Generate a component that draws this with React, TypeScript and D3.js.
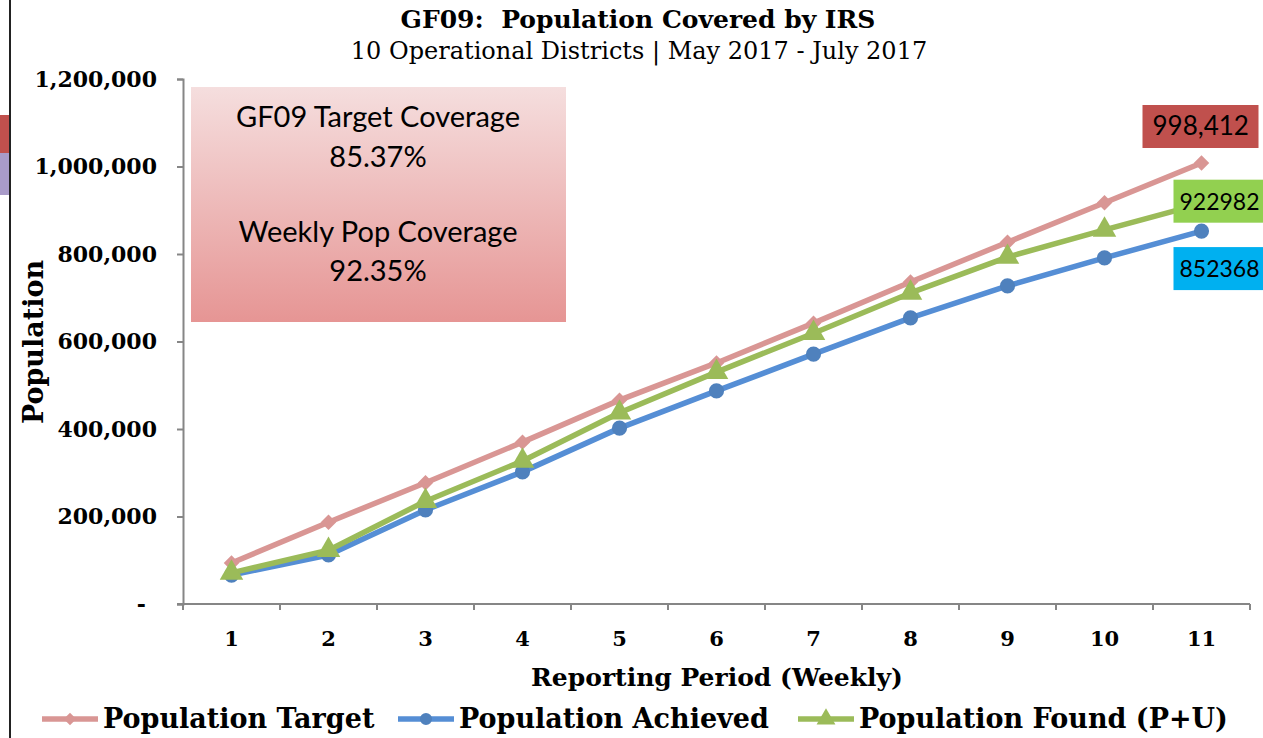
import React, { useEffect, useRef } from 'react';
import * as d3 from 'd3';

// weekly reporting periods
const periods = ['1', '2', '3', '4', '5', '6', '7', '8', '9', '10', '11'];
const populationTarget = [93700, 187000, 277000, 370000, 466000, 551000, 642000, 736000, 827000, 917000, 1008000];
const populationAchieved = [66000, 112000, 215000, 302000, 402000, 487000, 571000, 654000, 727000, 791000, 852368];
const populationFound = [71000, 123000, 235000, 327000, 437000, 530000, 619000, 711000, 793000, 855000, 915000];
const yTicks = [0, 200000, 400000, 600000, 800000, 1000000, 1200000];
const seriesNames = ['Population Target', 'Population Achieved', 'Population Found (P+U)'];
const endLabels = ['998,412', '852368', '922982'];
const coverageText = ['GF09 Target Coverage', '85.37%', 'Weekly Pop Coverage', '92.35%'];

const serif = "Georgia, 'DejaVu Serif', serif";
const sans = "Lato, 'Open Sans', sans-serif";

export default function App() {
  const ref = useRef<SVGSVGElement>(null);

  useEffect(() => {
    const svg = d3.select(ref.current);
    svg.selectAll('*').remove();
    const plot = { left: 183, right: 1250, top: 79, bottom: 604 };

    const x = d3.scaleBand().domain(periods).range([plot.left, plot.right]);
    const y = d3.scaleLinear().domain([0, 1200000]).range([plot.bottom, plot.top]);
    const cx = (i: number) => (x(periods[i]) as number) + x.bandwidth() / 2;

    // bits of the neighbouring chart cut off at the left edge
    svg.append('rect').attr('x', 0).attr('y', 115).attr('width', 9).attr('height', 38).attr('fill', '#C0504D');
    svg.append('rect').attr('x', 0).attr('y', 153).attr('width', 9).attr('height', 42).attr('fill', '#A99BC9');
    svg.append('line').attr('x1', 10).attr('x2', 10).attr('y1', 0).attr('y2', 738)
      .attr('stroke', '#222').attr('stroke-width', 2);

    // titles
    svg.append('text').attr('x', 638).attr('y', 28).attr('text-anchor', 'middle')
      .style('font-family', serif).style('font-weight', 'bold').style('font-size', '25px')
      .attr('xml:space', 'preserve').text('GF09:  Population Covered by IRS');
    svg.append('text').attr('x', 639).attr('y', 59).attr('text-anchor', 'middle')
      .style('font-family', serif).style('font-size', '24px')
      .text('10 Operational Districts | May 2017 - July 2017');

    // coverage box
    const defs = svg.append('defs');
    const grad = defs.append('linearGradient').attr('id', 'boxGrad')
      .attr('x1', 0).attr('x2', 0).attr('y1', 0).attr('y2', 1);
    grad.append('stop').attr('offset', '0%').attr('stop-color', '#F5DEDE');
    grad.append('stop').attr('offset', '100%').attr('stop-color', '#E69594');
    svg.append('rect').attr('x', 191).attr('y', 87).attr('width', 375).attr('height', 235)
      .attr('fill', 'url(#boxGrad)');
    const boxLines = [127, 167, 242, 281];
    coverageText.forEach((t, i) => {
      svg.append('text').attr('x', 378).attr('y', boxLines[i]).attr('text-anchor', 'middle')
        .style('font-family', sans).style('font-size', '29px').attr('fill', '#000').text(t);
    });

    // y axis
    const yAxis = svg.append('g').attr('transform', `translate(${plot.left},0)`)
      .call(d3.axisLeft(y).tickValues(yTicks).tickSize(6).tickFormat(() => ''));
    yAxis.selectAll('path, line').attr('stroke', '#868686').attr('stroke-width', 2);
    yTicks.forEach(v => {
      svg.append('text').attr('x', v === 0 ? 146 : 157).attr('y', y(v)).attr('dy', '0.35em')
        .attr('text-anchor', 'end').style('font-family', serif).style('font-weight', 'bold')
        .style('font-size', '22px').text(v === 0 ? '-' : d3.format(',')(v));
    });

    // x axis, ticks between categories
    svg.append('line').attr('x1', plot.left - 6).attr('x2', plot.right).attr('y1', plot.bottom).attr('y2', plot.bottom)
      .attr('stroke', '#868686').attr('stroke-width', 2);
    periods.concat(['end']).forEach((p, i) => {
      const xx = i < periods.length ? (x(p) as number) : plot.right;
      svg.append('line').attr('x1', xx).attr('x2', xx).attr('y1', plot.bottom).attr('y2', plot.bottom + 6)
        .attr('stroke', '#868686').attr('stroke-width', 2);
    });
    periods.forEach((p, i) => {
      svg.append('text').attr('x', cx(i)).attr('y', 646).attr('text-anchor', 'middle')
        .style('font-family', serif).style('font-weight', 'bold').style('font-size', '21px').text(p);
    });

    svg.append('text').attr('x', 717).attr('y', 686).attr('text-anchor', 'middle')
      .style('font-family', serif).style('font-weight', 'bold').style('font-size', '25px')
      .text('Reporting Period (Weekly)');
    svg.append('text').attr('transform', 'translate(43,342) rotate(-90)').attr('text-anchor', 'middle')
      .style('font-family', serif).style('font-weight', 'bold').style('font-size', '27px')
      .text('Population');

    // series
    const diamond = d3.symbol(d3.symbolSquare, 120)();
    const circle = d3.symbol(d3.symbolCircle, 180)();
    const triangle = d3.symbol(d3.symbolTriangle, 240)();
    const series = [
      { values: populationTarget, line: '#D99694', marker: '#D99694', shape: diamond, rot: 45 },
      { values: populationAchieved, line: '#558ED5', marker: '#4F81BD', shape: circle, rot: 0 },
      { values: populationFound, line: '#9BBB59', marker: '#9BBB59', shape: triangle, rot: 0 },
    ];
    const line = d3.line<number>().x((_, i) => cx(i)).y(d => y(d));
    series.forEach(s => {
      svg.append('path').datum(s.values).attr('d', line).attr('fill', 'none')
        .attr('stroke', s.line).attr('stroke-width', 5.5).attr('stroke-linejoin', 'round');
      svg.selectAll(null).data(s.values).enter().append('path')
        .attr('d', s.shape)
        .attr('transform', (d, i) => `translate(${cx(i)},${y(d)}) rotate(${s.rot})`)
        .attr('fill', s.marker);
    });

    // end-of-line data labels
    const last = periods.length - 1;
    const lx = cx(last);
    const labelBoxes = [
      { text: endLabels[0], fill: '#C0504D', x: lx - 59, y: y(populationTarget[last]) - 58, w: 116, tx: lx - 49, fs: 26 },
      { text: endLabels[1], fill: '#00B0F0', x: lx - 28, y: y(populationAchieved[last]) + 16, w: 92, tx: lx - 22, fs: 23 },
      { text: endLabels[2], fill: '#92D050', x: lx - 28, y: y(populationFound[last]) - 24, w: 92, tx: lx - 22, fs: 23 },
    ];
    labelBoxes.forEach(b => {
      svg.append('rect').attr('x', b.x).attr('y', b.y).attr('width', b.w).attr('height', 43).attr('fill', b.fill);
      svg.append('text').attr('x', b.tx).attr('y', b.y + 30)
        .style('font-family', sans).style('font-size', `${b.fs}px`).attr('fill', '#000').text(b.text);
    });

    // legend
    const legendX = [42, 398, 798];
    series.forEach((s, i) => {
      const g = svg.append('g').attr('transform', `translate(${legendX[i]},719)`);
      g.append('line').attr('x1', 0).attr('x2', 56).attr('stroke', s.line).attr('stroke-width', 5.5);
      g.append('path').attr('d', s.shape).attr('transform', `translate(28,0) rotate(${s.rot}) scale(0.8)`)
        .attr('fill', s.marker);
      g.append('text').attr('x', 61).attr('y', 9).style('font-family', serif).style('font-weight', 'bold')
        .style('font-size', '27px').text(seriesNames[i]);
    });
  }, []);

  return (
    <svg ref={ref} width={1263} height={738}
      style={{ position: 'absolute', left: 0, top: 0, background: '#fff', display: 'block' }} />
  );
}
